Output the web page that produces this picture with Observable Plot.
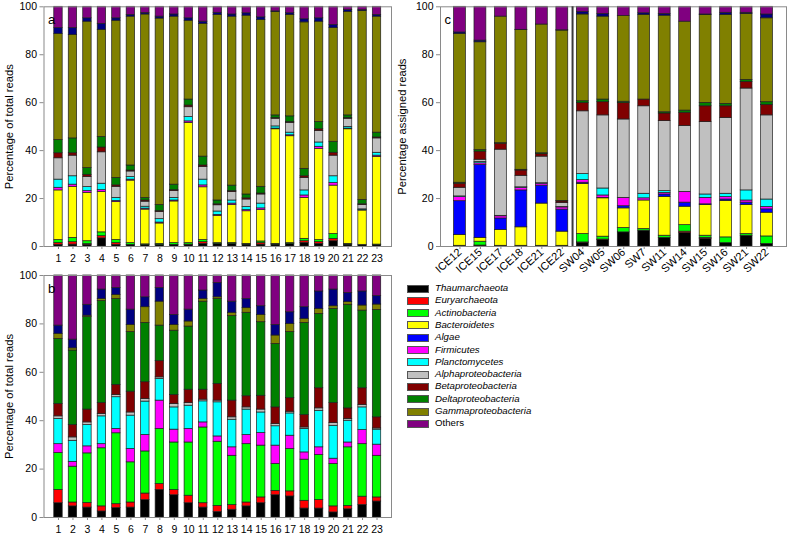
<!DOCTYPE html>
<html><head><meta charset="utf-8">
<script src="https://cdn.jsdelivr.net/npm/d3@7"></script>
<script src="https://cdn.jsdelivr.net/npm/@observablehq/plot@0.6"></script>
<style>
body{margin:0;background:#fff;font-family:Arial,"Liberation Sans",sans-serif}
#fig{position:relative;width:787px;height:534px;overflow:hidden;background:#fff}
#fig > *{position:absolute}
.lg{font-size:9.7px;color:#000}
.lg .row{position:absolute;left:0;height:12px;white-space:nowrap}
.lg .sw{position:absolute;left:0;top:2.5px;width:20px;height:6px;border:0.8px solid #555}
.lg .tx{position:absolute;left:28px;top:0;line-height:12px;font-style:italic}
</style></head><body><div id="fig"></div>
<script>
// Taxa, bottom to top of each stacked bar
const taxa = ["Thaumarchaeota","Euryarchaeota","Actinobacteria","Bacteroidetes","Algae","Firmicutes","Planctomycetes","Alphaproteobacteria","Betaproteobacteria","Deltaproteobacteria","Gammaproteobacteria","Unlabelled","Others"];
const legendTaxa = ["Thaumarchaeota","Euryarchaeota","Actinobacteria","Bacteroidetes","Algae","Firmicutes","Planctomycetes","Alphaproteobacteria","Betaproteobacteria","Deltaproteobacteria","Gammaproteobacteria","Others"];
const taxaColors = ["#000000","#ff0000","#00ff00","#ffff00","#0000ff","#ff00ff","#00ffff","#c0c0c0","#800000","#008000","#808000","#000080","#800080"];

// Tick labels
const labelsAB = ["1","2","3","4","5","6","7","8","9","10","11","12","13","14","15","16","17","18","19","20","21","22","23"];
const labelsC = ["ICE12","ICE15","ICE17","ICE18","ICE21","ICE22","SW04","SW05","SW06","SW7","SW11","SW14","SW15","SW16","SW21","SW22"];

// Cumulative upper bound (%) of each taxon (bottom to top, Others fills to 100), one row per bar
const panelA = [
[0.7,1.4,2.7,23.4,23.4,24.5,27.9,36.8,38.9,44.4,88.7,91.1],
[0.8,1.8,3.6,24.9,24.9,25.8,29.3,37.9,38.9,45.1,88.3,91.1],
[0.7,1.0,2.2,22.4,22.4,23.1,24.8,29.0,29.9,32.7,93.8,95.2],
[3.4,4.3,5.9,22.7,22.7,23.5,26.2,39.3,41.3,45.7,90.4,92.9],
[0.7,1.4,2.7,18.5,18.5,19.0,20.3,24.9,25.5,28.6,94.2,95.2],
[0.7,0.7,1.4,27.5,27.5,27.9,29.0,31.3,31.7,33.8,95.9,96.6],
[0.7,0.7,0.9,15.4,15.4,15.8,16.6,18.7,19.2,20.2,96.8,97.4],
[0.7,0.7,1.1,9.6,9.6,10.0,11.4,14.4,14.8,17.3,95.1,95.9],
[0.7,0.7,1.4,18.8,18.8,19.2,20.3,23.1,23.5,25.8,95.9,96.8],
[0.7,0.8,1.4,51.6,51.6,52.2,54.0,58.1,58.8,61.3,94.2,95.2],
[1.1,1.8,2.7,24.7,24.7,25.5,27.9,33.2,33.8,37.5,92.9,93.8],
[1.1,1.1,1.4,12.8,12.8,13.2,14.6,17.2,17.6,19.2,96.6,97.5],
[1.1,1.1,1.5,17.3,17.3,17.9,19.2,22.7,23.1,25.4,95.9,96.8],
[0.8,0.8,1.1,14.7,14.7,15.2,16.5,19.6,20.1,21.7,96.3,97.3],
[0.8,1.4,2.1,15.2,15.2,15.9,17.9,21.7,22.1,24.9,94.5,95.6],
[0.8,0.8,1.1,48.9,48.9,49.2,50.1,53.3,53.6,54.7,97.9,98.1],
[1.1,1.1,1.4,46.0,46.0,46.4,47.5,51.6,51.9,54.3,96.6,97.3],
[1.5,2.2,3.2,20.3,20.3,21.3,23.4,28.6,29.3,32.4,93.5,94.8],
[1.1,1.8,2.7,40.7,40.7,41.6,43.4,48.2,48.9,51.9,93.8,95.2],
[2.2,3.2,5.2,25.4,25.4,26.5,29.3,37.9,39.1,43.7,91.1,92.4],
[0.8,0.8,1.1,48.9,48.9,49.2,49.9,53.3,53.6,54.7,97.9,98.6],
[0.7,0.7,0.7,15.0,15.0,15.2,15.5,17.3,17.6,19.4,98.2,98.6],
[0.7,0.7,0.8,37.4,37.4,37.9,39.1,45.1,45.5,47.5,95.9,96.6]
];
const panelB = [
[5.9,11.4,26.6,26.6,26.6,30.3,40.7,41.8,46.9,73.8,75.9,79.3],
[4.6,6.2,21.0,21.0,21.0,23.0,31.7,33.1,38.2,69.0,69.9,73.5],
[4.1,6.0,26.5,26.5,26.5,29.4,38.2,39.3,44.6,82.8,83.4,87.9],
[2.5,4.6,28.6,28.6,28.6,30.3,41.8,42.8,47.3,89.4,90.3,94.2],
[3.9,5.5,34.8,34.8,34.8,36.6,49.7,50.6,54.8,90.3,92.0,94.8],
[4.1,6.2,22.8,22.8,22.8,28.3,42.1,43.4,52.0,76.6,79.6,85.9],
[7.2,9.9,27.3,27.3,27.3,34.1,47.9,49.0,55.9,80.4,86.9,91.0],
[11.4,13.8,36.6,36.6,36.6,48.3,57.2,57.9,64.6,79.3,89.2,94.8],
[9.2,11.3,31.0,31.0,31.0,36.3,45.5,46.9,50.6,77.2,79.6,83.7],
[5.9,9.0,31.0,31.0,31.0,36.6,46.2,47.3,52.8,78.9,81.0,85.9],
[4.1,5.9,37.2,37.2,37.2,39.3,48.0,48.7,52.8,89.2,90.3,93.8],
[2.3,4.8,31.3,31.3,31.3,33.5,47.6,48.3,55.2,90.3,91.0,96.9],
[3.2,5.1,25.5,25.5,25.5,29.0,40.4,41.4,48.3,83.2,84.6,89.2],
[4.6,6.2,30.3,30.3,30.3,34.1,44.6,45.5,50.1,84.6,86.5,90.3],
[5.9,8.3,29.7,29.7,29.7,34.9,43.4,44.6,50.3,80.7,83.7,87.3],
[9.2,11.0,22.1,22.1,22.1,29.7,37.7,38.6,45.5,71.7,75.2,79.6],
[8.7,10.8,28.3,28.3,28.3,33.8,43.0,43.7,49.3,76.6,80.0,84.8],
[3.7,6.9,23.9,23.9,23.9,26.9,36.6,37.2,42.3,80.4,82.1,86.9],
[3.7,7.2,25.8,25.8,25.8,29.0,44.1,45.1,53.4,84.1,86.2,93.4],
[2.1,4.6,22.1,22.1,22.1,24.3,37.9,39.0,47.3,86.2,87.3,94.2],
[3.4,4.8,29.0,29.0,29.0,31.0,40.0,40.7,45.1,87.9,89.0,92.8],
[5.2,8.6,30.3,30.3,30.3,36.1,45.5,46.5,53.4,85.5,87.6,93.4],
[6.6,8.3,25.5,25.5,25.5,30.1,36.3,36.8,41.4,85.8,88.0,91.5]
];
const panelC = [
[0.3,0.3,0.3,4.8,18.9,20.6,20.9,24.5,26.2,26.6,88.7,89.3],
[0.3,0.4,2.0,3.6,34.0,34.7,35.3,36.2,39.6,40.2,85.2,85.9],
[0.3,0.3,0.3,6.9,11.7,12.6,12.8,40.4,42.9,43.1,95.9,95.9],
[0.3,0.3,0.3,8.0,23.4,24.5,24.7,29.5,31.7,32.0,90.3,90.4],
[0.3,0.3,0.3,17.9,25.4,26.2,26.4,37.5,38.5,38.9,92.6,92.6],
[0.3,0.3,0.3,6.2,15.4,16.3,16.5,18.1,18.8,19.0,90.1,90.2],
[1.6,1.7,5.2,26.1,26.6,27.7,30.2,56.4,59.8,60.6,96.8,97.8],
[2.7,2.9,4.1,20.1,20.3,21.3,24.2,54.7,60.2,61.3,95.9,97.0],
[5.9,5.9,7.7,15.9,16.8,20.3,20.3,53.0,59.8,60.4,96.2,96.2],
[6.6,6.6,7.3,19.2,19.2,20.1,22.0,58.5,61.3,61.3,96.6,97.3],
[3.6,3.6,4.5,20.7,21.7,22.4,23.1,52.3,55.5,56.0,96.3,97.0],
[5.6,6.2,8.9,16.6,18.3,22.8,22.8,50.3,55.8,56.7,93.8,93.8],
[3.2,3.6,4.5,17.3,17.6,20.3,21.7,51.9,58.5,59.9,96.6,96.8],
[1.4,1.4,3.8,19.0,19.6,20.6,22.0,53.6,58.5,59.5,96.6,97.5],
[4.5,4.5,5.2,17.3,18.3,19.2,23.4,65.9,68.7,69.5,97.0,97.5],
[1.1,1.1,4.2,14.1,15.5,16.5,19.6,54.7,59.1,60.2,95.2,96.8]
];

function segments(tops) {
  const out = [];
  tops.forEach((row, i) => {
    let prev = 0;
    taxa.forEach((t, k) => {
      const top = k < row.length ? row[k] : 100;
      if (top > prev) out.push({x: i + 1, taxon: t, y1: prev, y2: top});
      prev = Math.max(prev, top);
    });
  });
  return out;
}

const FRAME = "#8a8a8a";
function panel(o) {
  const data = segments(o.tops);
  const hw = o.halfWidth;
  const marks = [
    Plot.rect(data, {x1: d => d.x - hw, x2: d => d.x + hw, y1: "y1", y2: "y2", fill: "taxon", stroke: "#1e1e1e", strokeWidth: 0.7}),
    Plot.frame({stroke: FRAME}),
    Plot.axisY({ticks: [0,20,40,60,80,100], tickSize: 4, tickPadding: 3, stroke: FRAME, label: null, fontSize: 10.5}),
    Plot.axisX({ticks: o.labels.map((_, i) => i + 1), tickFormat: v => o.labels[v - 1], tickSize: 3, tickPadding: o.rotate ? 1 : 5, tickRotate: o.rotate || 0, stroke: FRAME, label: null, fontSize: o.rotate ? 11 : 10.5}),
    Plot.text([o.ylabel], {frameAnchor: "left", textAnchor: "middle", dx: o.ylabelDx, rotate: -90, fontSize: 11.2, fill: "#000"}),
    Plot.text([o.letter], {frameAnchor: "top-left", dx: 4, dy: 8, fontSize: 13, fill: "#000"})
  ];
  if (o.separator) marks.push(Plot.ruleX([o.separator], {stroke: "#3a3a3a", strokeWidth: 2}));
  const svg = Plot.plot({
    width: o.width, height: o.height,
    marginLeft: o.ml, marginRight: o.mr, marginTop: o.mt, marginBottom: o.mb,
    style: {fontFamily: "Arial, 'Liberation Sans', sans-serif", fontSize: "10.5px", color: "#000", background: "transparent", overflow: "visible"},
    x: {type: "linear", domain: o.xDomain, axis: null},
    y: {domain: [0, 100], axis: null},
    color: {domain: taxa, range: taxaColors},
    marks
  });
  svg.style.left = o.left + "px";
  svg.style.top = o.top + "px";
  return svg;
}

const fig = document.getElementById("fig");
fig.appendChild(panel({tops: panelA, labels: labelsAB, left: 0, top: 0, width: 395, height: 268, ml: 43.5, mr: 4, mt: 6.3, mb: 22, xDomain: [0, 24], halfWidth: 0.29, ylabel: "Percentage of total reads", ylabelDx: -35, letter: "a"}));
fig.appendChild(panel({tops: panelB, labels: labelsAB, left: 0, top: 265, width: 395, height: 269, ml: 43.5, mr: 4, mt: 10, mb: 17, xDomain: [0, 24], halfWidth: 0.29, ylabel: "Percentage of total reads", ylabelDx: -35, letter: "b"}));
fig.appendChild(panel({tops: panelC, labels: labelsC, left: 390, top: 0, width: 397, height: 290, ml: 50, mr: 1, mt: 6.3, mb: 44, xDomain: [0.05, 16.95], halfWidth: 0.29, ylabel: "Percentage assigned reads", ylabelDx: -38, letter: "c", rotate: -42, separator: 6.5}));

// Legend
const lg = document.createElement("div");
lg.className = "lg";
lg.style.left = "407px";
lg.style.top = "282px";
legendTaxa.forEach((t, i) => {
  const row = document.createElement("div");
  row.className = "row";
  row.style.top = (i * 12.3) + "px";
  const sw = document.createElement("div");
  sw.className = "sw";
  sw.style.background = taxaColors[taxa.indexOf(t)];
  const tx = document.createElement("div");
  tx.className = "tx";
  tx.textContent = t;
  if (t === "Others") tx.style.fontStyle = "normal";
  row.appendChild(sw); row.appendChild(tx);
  lg.appendChild(row);
});
fig.appendChild(lg);
</script>
</body></html>
